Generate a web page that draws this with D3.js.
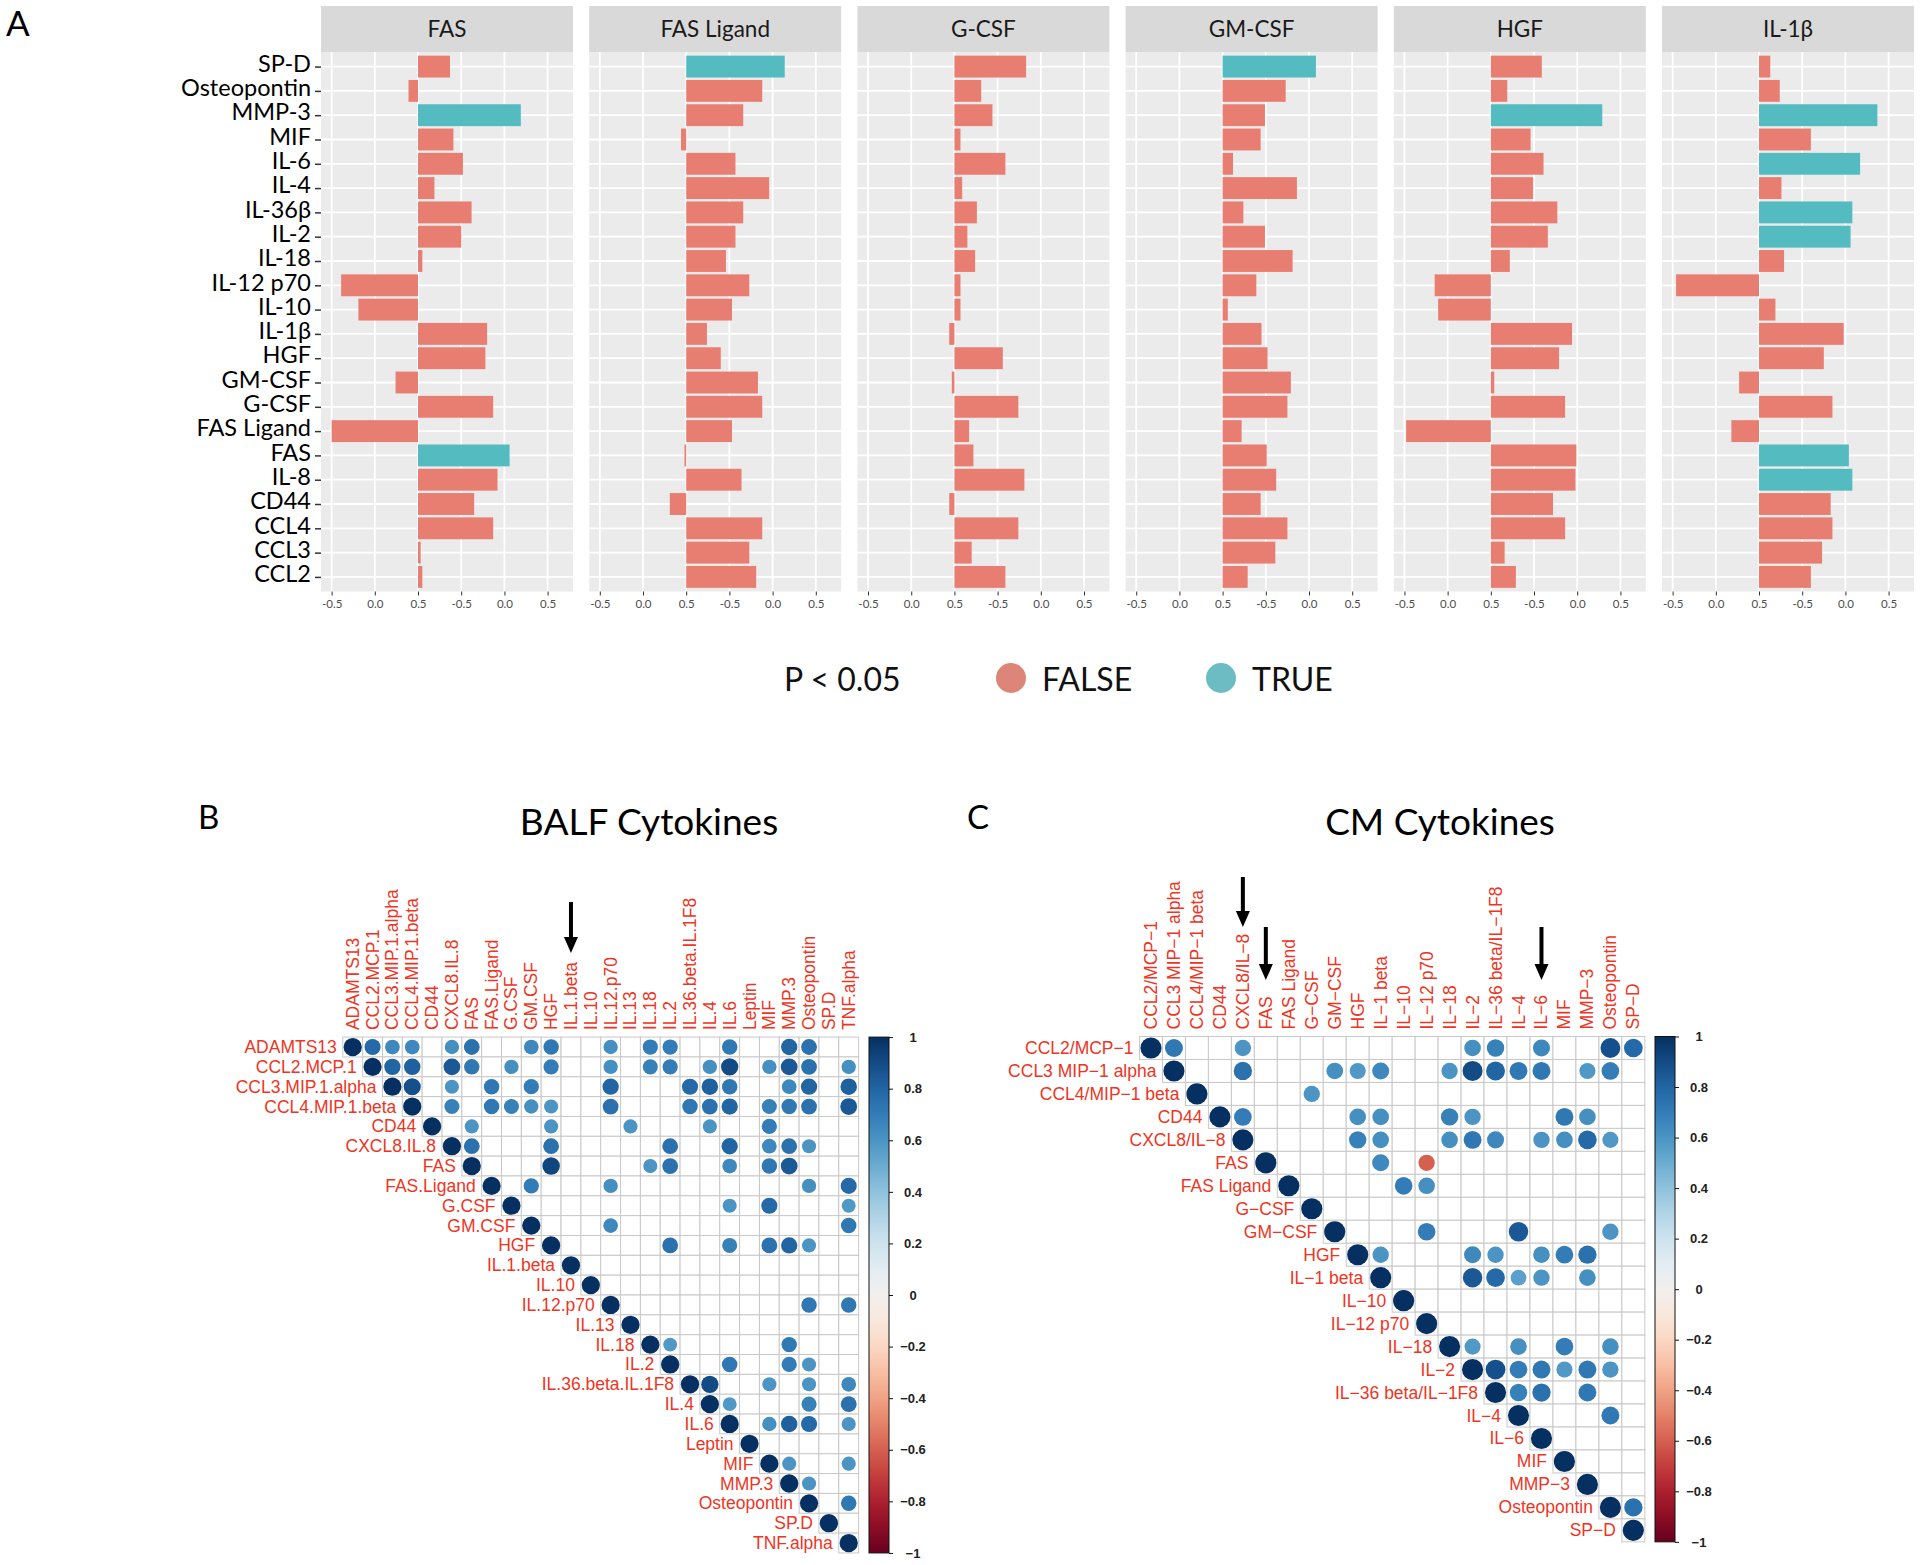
<!DOCTYPE html>
<html>
<head>
<meta charset="utf-8">
<script src="https://cdn.jsdelivr.net/npm/d3@7"></script>
<style>
  body { margin: 0; background: #fff; }
  svg { display: block; }
</style>
</head>
<body>
<svg id="fig" width="1920" height="1565"></svg>
<script>
// ---------- panel A data ----------
const cytokines = ['SP-D', 'Osteopontin', 'MMP-3', 'MIF', 'IL-6', 'IL-4', 'IL-36β', 'IL-2', 'IL-18', 'IL-12 p70', 'IL-10',
    'IL-1β', 'HGF', 'GM-CSF', 'G-CSF', 'FAS Ligand', 'FAS', 'IL-8', 'CD44', 'CCL4', 'CCL3', 'CCL2'];
const facets = ['FAS', 'FAS Ligand', 'G-CSF', 'GM-CSF', 'HGF', 'IL-1β'];

const fasVals      = [0.37, -0.11, 1.19, 0.41, 0.52, 0.19, 0.62, 0.50, 0.05, -0.89, -0.69, 0.80, 0.78, -0.26, 0.87, -1.00, 1.06, 0.92, 0.65, 0.87, 0.03, 0.05];
const fasLigandVals = [1.14, 0.88, 0.66, -0.06, 0.57, 0.96, 0.66, 0.57, 0.46, 0.73, 0.53, 0.24, 0.40, 0.83, 0.88, 0.53, -0.02, 0.64, -0.19, 0.88, 0.73, 0.81];
const gcsfVals     = [0.83, 0.31, 0.44, 0.07, 0.59, 0.09, 0.26, 0.15, 0.24, 0.07, 0.07, -0.06, 0.56, -0.03, 0.74, 0.17, 0.22, 0.81, -0.06, 0.74, 0.20, 0.59];
const gmcsfVals    = [1.08, 0.73, 0.49, 0.44, 0.12, 0.86, 0.24, 0.49, 0.81, 0.39, 0.06, 0.45, 0.52, 0.79, 0.75, 0.22, 0.51, 0.62, 0.44, 0.75, 0.61, 0.29];
const hgfVals      = [0.59, 0.19, 1.29, 0.46, 0.61, 0.49, 0.77, 0.66, 0.22, -0.65, -0.61, 0.94, 0.79, 0.04, 0.86, -0.98, 0.99, 0.98, 0.72, 0.86, 0.16, 0.29];
const il1bVals     = [0.13, 0.24, 1.37, 0.60, 1.17, 0.26, 1.08, 1.06, 0.29, -0.96, 0.19, 0.98, 0.75, -0.23, 0.85, -0.32, 1.04, 1.08, 0.83, 0.85, 0.73, 0.60];

// cytokines with P < 0.05 in each facet
const fasSig       = ['MMP-3', 'FAS'];
const fasLigandSig = ['SP-D'];
const gcsfSig      = [];
const gmcsfSig     = ['SP-D'];
const hgfSig       = ['MMP-3'];
const il1bSig      = ['MMP-3', 'IL-6', 'IL-36β', 'IL-2', 'FAS', 'IL-8'];

const xTickValues = [-1, -0.5, 0, 0.5, 1, 1.5];
const xTickLabels = ['-0.5', '0.0', '0.5', '-0.5', '0.0', '0.5'];

// ---------- panel B data (BALF) ----------
const balfVars = ['ADAMTS13', 'CCL2.MCP.1', 'CCL3.MIP.1.alpha', 'CCL4.MIP.1.beta', 'CD44', 'CXCL8.IL.8', 'FAS', 'FAS.Ligand',
    'G.CSF', 'GM.CSF', 'HGF', 'IL.1.beta', 'IL.10', 'IL.12.p70', 'IL.13', 'IL.18', 'IL.2', 'IL.36.beta.IL.1F8', 'IL.4', 'IL.6',
    'Leptin', 'MIF', 'MMP.3', 'Osteopontin', 'SP.D', 'TNF.alpha'];
// [row, col, r] for the significant off-diagonal cells
const balfCorr = [
    [0,1,.78],[0,2,.65],[0,3,.65],[0,5,.62],[0,6,.75],[0,9,.65],[0,10,.72],[0,13,.62],[0,15,.7],[0,16,.7],[0,19,.72],[0,22,.8],[0,23,.75],
    [1,2,.8],[1,3,.82],[1,5,.85],[1,6,.72],[1,8,.62],[1,10,.7],[1,13,.62],[1,15,.68],[1,16,.7],[1,18,.62],[1,19,.9],[1,21,.62],[1,22,.85],[1,23,.75],[1,25,.62],
    [2,3,.88],[2,5,.6],[2,7,.72],[2,9,.7],[2,13,.8],[2,17,.78],[2,18,.82],[2,19,.72],[2,22,.65],[2,23,.8],[2,25,.82],
    [3,5,.68],[3,7,.72],[3,8,.68],[3,9,.62],[3,10,.6],[3,13,.75],[3,17,.72],[3,18,.75],[3,19,.8],[3,21,.68],[3,22,.72],[3,23,.75],[3,25,.85],
    [4,6,.6],[4,10,.6],[4,14,.6],[4,18,.6],[4,21,.7],
    [5,6,.75],[5,10,.75],[5,16,.75],[5,19,.8],[5,21,.65],[5,22,.75],[5,23,.6],
    [6,10,.92],[6,15,.6],[6,16,.75],[6,19,.65],[6,21,.72],[6,22,.85],
    [7,9,.7],[7,13,.62],[7,23,.62],[7,25,.78],
    [8,19,.6],[8,21,.78],[8,25,.58],
    [9,13,.65],[9,25,.72],
    [10,16,.75],[10,19,.68],[10,21,.75],[10,22,.8],[10,23,.6],
    [13,23,.72],[13,25,.72],
    [15,16,.58],[15,22,.72],
    [16,19,.72],[16,22,.7],[16,23,.6],
    [17,18,.9],[17,21,.6],[17,23,.6],[17,25,.65],
    [18,19,.58],[18,23,.68],[18,25,.75],
    [19,21,.62],[19,22,.82],[19,23,.78],[19,25,.6],
    [21,22,.6],[21,25,.6],
    [22,23,.6],
    [23,25,.72]
];

// ---------- panel C data (CM) ----------
const cmVars = ['CCL2/MCP−1', 'CCL3 MIP−1 alpha', 'CCL4/MIP−1 beta', 'CD44', 'CXCL8/IL−8', 'FAS', 'FAS Ligand', 'G−CSF',
    'GM−CSF', 'HGF', 'IL−1 beta', 'IL−10', 'IL−12 p70', 'IL−18', 'IL−2', 'IL−36 beta/IL−1F8', 'IL−4', 'IL−6', 'MIF',
    'MMP−3', 'Osteopontin', 'SP−D'];
const cmCorr = [
    [0,1,.72],[0,4,.6],[0,14,.62],[0,15,.68],[0,17,.65],[0,20,.88],[0,21,.78],
    [1,4,.75],[1,8,.62],[1,9,.58],[1,10,.65],[1,13,.6],[1,14,.9],[1,15,.8],[1,16,.72],[1,17,.72],[1,19,.58],[1,20,.7],
    [2,7,.6],
    [3,4,.7],[3,9,.62],[3,10,.62],[3,13,.68],[3,14,.6],[3,18,.72],[3,19,.62],
    [4,9,.68],[4,10,.62],[4,13,.62],[4,14,.72],[4,15,.65],[4,17,.6],[4,18,.62],[4,19,.78],[4,20,.58],
    [5,10,.65],[5,12,-.6],
    [6,11,.7],[6,12,.62],
    [8,12,.7],[8,16,.85],[8,20,.6],
    [9,10,.6],[9,14,.65],[9,15,.6],[9,17,.62],[9,18,.7],[9,19,.75],
    [10,14,.85],[10,15,.78],[10,16,.55],[10,17,.6],[10,19,.62],
    [13,14,.58],[13,16,.62],[13,18,.7],[13,20,.62],
    [14,15,.88],[14,16,.7],[14,17,.72],[14,18,.58],[14,19,.72],[14,20,.6],
    [15,16,.68],[15,17,.75],[15,19,.72],
    [16,20,.72],
    [20,21,.75]
];

const colorbarTicks = [1, 0.8, 0.6, 0.4, 0.2, 0, -0.2, -0.4, -0.6, -0.8, -1];

// ---------- drawing ----------
const svg = d3.select('#fig');
const fontA = 'Lato, "Open Sans", sans-serif';
const fontR = '"Liberation Sans", Arial, sans-serif';
const falseCol = '#E87D72', trueCol = '#54BBC1';

// panel A: faceted bar chart
const facetVals = [fasVals, fasLigandVals, gcsfVals, gmcsfVals, hgfVals, il1bVals];
const facetSig = [fasSig, fasLigandSig, gcsfSig, gmcsfSig, hgfSig, il1bSig];
const facetW = 252, facetStep = 268.2, facetX0 = 321;
const stripTop = 6, panelTop = 52, panelBottom = 591.5;

const y = d3.scalePoint().domain(cytokines).range([panelTop, panelBottom]).padding(0.6);
const barH = y.step() * 0.9;

facets.forEach((f, i) => {
    const x0 = facetX0 + i * facetStep;
    const x = d3.scaleLinear().domain([-1.123, 1.794]).range([x0, x0 + facetW]);
    const g = svg.append('g');
    const vals = facetVals[i], sig = facetSig[i];

    g.append('rect').attr('x', x0).attr('y', stripTop).attr('width', facetW)
        .attr('height', panelTop - stripTop).attr('fill', '#D9D9D9');
    g.append('text').text(f)
        .attr('x', x0 + facetW / 2).attr('y', (stripTop + panelTop) / 2 - 1)
        .attr('text-anchor', 'middle').attr('dominant-baseline', 'central')
        .attr('font-family', fontA).attr('font-size', 22.5).attr('fill', '#1A1A1A');

    g.append('rect').attr('x', x0).attr('y', panelTop).attr('width', facetW)
        .attr('height', panelBottom - panelTop).attr('fill', '#EBEBEB');

    // grid
    g.selectAll('.vgrid').data(xTickValues).join('line')
        .attr('x1', d => x(d)).attr('x2', d => x(d))
        .attr('y1', panelTop).attr('y2', panelBottom)
        .attr('stroke', '#fff').attr('stroke-width', 1.8);
    g.selectAll('.hgrid').data(cytokines).join('line')
        .attr('x1', x0).attr('x2', x0 + facetW)
        .attr('y1', d => y(d)).attr('y2', d => y(d))
        .attr('stroke', '#fff').attr('stroke-width', 1.8);

    // bars
    g.selectAll('.bar').data(cytokines).join('rect')
        .attr('x', (d, k) => x(Math.min(0, vals[k])))
        .attr('width', (d, k) => Math.abs(x(vals[k]) - x(0)))
        .attr('y', d => y(d) - barH / 2)
        .attr('height', barH)
        .attr('fill', d => sig.includes(d) ? trueCol : falseCol);

    // x axis
    const ax = g.append('g').attr('transform', `translate(0,${panelBottom})`)
        .call(d3.axisBottom(x).tickValues(xTickValues).tickFormat((d, k) => xTickLabels[k]).tickSize(4).tickPadding(4));
    ax.select('.domain').remove();
    ax.selectAll('line').attr('stroke', '#333');
    ax.selectAll('text').attr('font-family', fontA).attr('font-size', 11.5).attr('fill', '#4D4D4D');
});

// y axis (shared)
const yAx = svg.append('g').attr('transform', `translate(${facetX0},0)`)
    .call(d3.axisLeft(y).tickSize(6).tickPadding(4));
yAx.select('.domain').remove();
yAx.selectAll('line').attr('stroke', '#333').attr('stroke-width', 1.5);
yAx.selectAll('text').attr('font-family', fontA).attr('font-size', 23.5).attr('fill', '#000')
    .attr('dy', '0.2em');

// legend
const leg = svg.append('g').attr('font-family', fontA).attr('font-size', 32).attr('fill', '#111');
leg.append('text').text('P < 0.05').attr('x', 784).attr('y', 678).attr('dominant-baseline', 'central');
[['FALSE', 1011, '#DE857A'], ['TRUE', 1221, '#6BBDC3']].forEach(([lab, cx, c]) => {
    leg.append('circle').attr('cx', cx).attr('cy', 678).attr('r', 15).attr('fill', c);
    leg.append('text').text(lab).attr('x', cx + 31).attr('y', 678).attr('dominant-baseline', 'central');
});

// panel letters
[['A', 6, 36, 35], ['B', 198, 829, 33], ['C', 967, 829, 33]].forEach(([t, lx, ly, fs]) => {
    svg.append('text').text(t).attr('x', lx).attr('y', ly)
        .attr('font-family', fontA).attr('font-size', fs).attr('fill', '#000');
});

// gradient for the colour bars
const grad = svg.append('defs').append('linearGradient').attr('id', 'rdbu')
    .attr('x1', 0).attr('y1', 0).attr('x2', 0).attr('y2', 1);
d3.range(0, 1.0001, 0.05).forEach(t => {
    grad.append('stop').attr('offset', t).attr('stop-color', d3.interpolateRdBu(1 - t));
});

function corrplot(opt) {
    const { vars, pairs, left, top, cell, barX, title, titleX, arrows } = opt;
    const n = vars.length;
    const xb = d3.scaleBand().domain(d3.range(n)).range([left, left + n * cell]);
    const yb = d3.scaleBand().domain(d3.range(n)).range([top, top + n * cell]);
    const color = v => d3.interpolateRdBu((v + 1) / 2);
    const rad = v => Math.sqrt(Math.abs(v)) * cell * 0.46;
    const g = svg.append('g');

    // upper-triangle cells
    const cells = [];
    for (let i = 0; i < n; i++) for (let j = i; j < n; j++) cells.push([i, j]);
    g.selectAll('.cell').data(cells).join('rect')
        .attr('x', d => xb(d[1])).attr('y', d => yb(d[0]))
        .attr('width', cell).attr('height', cell)
        .attr('fill', '#fff').attr('stroke', '#C8C8C8').attr('stroke-width', 1);

    const entries = vars.map((v, i) => [i, i, 1]).concat(pairs);
    g.selectAll('.dot').data(entries).join('circle')
        .attr('cx', d => xb(d[1]) + cell / 2)
        .attr('cy', d => yb(d[0]) + cell / 2)
        .attr('r', d => rad(d[2]))
        .attr('fill', d => color(d[2]));

    // labels
    g.selectAll('.rowlab').data(vars).join('text')
        .text(d => d)
        .attr('x', (d, i) => xb(i) - 6)
        .attr('y', (d, i) => yb(i) + cell / 2)
        .attr('text-anchor', 'end').attr('dominant-baseline', 'central')
        .attr('font-family', fontR).attr('font-size', 17.5).attr('fill', '#EE3524');
    g.selectAll('.collab').data(vars).join('text')
        .text(d => d)
        .attr('transform', (d, i) => `translate(${xb(i) + cell / 2},${top - 7}) rotate(-90)`)
        .attr('text-anchor', 'start').attr('dominant-baseline', 'central')
        .attr('font-family', fontR).attr('font-size', 17.5).attr('fill', '#EE3524');

    // colour bar
    const barY = d3.scaleLinear().domain([1, -1]).range([top, top + n * cell]);
    g.append('rect').attr('x', barX).attr('y', top).attr('width', 20).attr('height', n * cell)
        .attr('fill', 'url(#rdbu)').attr('stroke', '#111').attr('stroke-width', 1);
    const cb = g.append('g').attr('transform', `translate(${barX + 20},0)`)
        .call(d3.axisRight(barY).tickValues(colorbarTicks).tickFormat(d3.format('~g')).tickSize(4).tickPadding(4));
    cb.select('.domain').remove();
    cb.selectAll('line').attr('stroke', '#111');
    cb.selectAll('text').attr('x', 24).attr('text-anchor', 'middle')
        .attr('font-family', fontR).attr('font-size', 13).attr('font-weight', 'bold').attr('fill', '#222');

    // title
    svg.append('text').text(title).attr('x', titleX).attr('y', 835)
        .attr('text-anchor', 'middle').attr('font-family', fontA).attr('font-size', 37).attr('fill', '#000');

    // arrows marking columns
    arrows.forEach(a => {
        const ax = xb(a.col) + cell / 2;
        g.append('line').attr('x1', ax).attr('x2', ax).attr('y1', a.y1).attr('y2', a.y2 - 14)
            .attr('stroke', '#000').attr('stroke-width', 4);
        g.append('path')
            .attr('d', `M${ax - 7},${a.y2 - 16} L${ax + 7},${a.y2 - 16} L${ax},${a.y2} Z`)
            .attr('fill', '#000');
    });
}

corrplot({
    vars: balfVars, pairs: balfCorr, left: 342.8, top: 1037.1, cell: 19.84, barX: 869,
    title: 'BALF Cytokines', titleX: 649,
    arrows: [{ col: 11, y1: 902, y2: 953 }]
});
corrplot({
    vars: cmVars, pairs: cmCorr, left: 1139.5, top: 1036.5, cell: 22.97, barX: 1655,
    title: 'CM Cytokines', titleX: 1440,
    arrows: [{ col: 4, y1: 877, y2: 927 }, { col: 5, y1: 927, y2: 980 }, { col: 17, y1: 927, y2: 980 }]
});
</script>
</body>
</html>
